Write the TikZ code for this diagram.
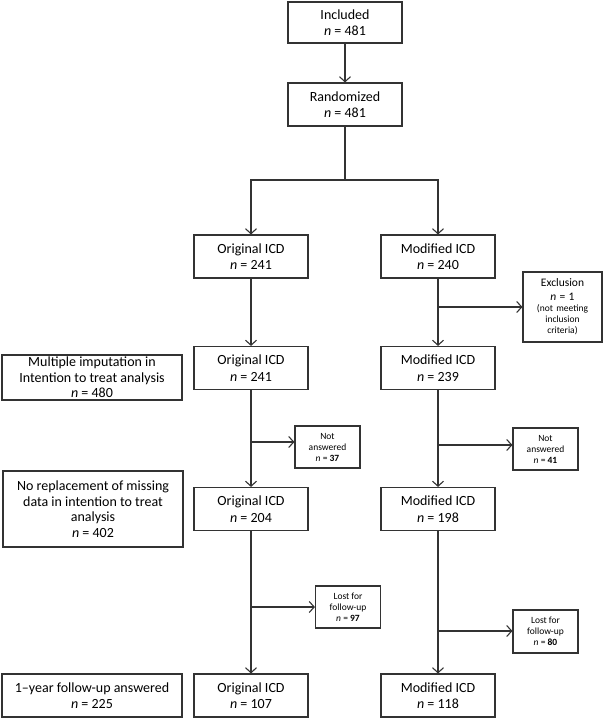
\documentclass[tikz,border=0pt]{standalone}
\usepackage{fontspec}
\setmainfont{Carlito}
\usetikzlibrary{arrows.meta}

\begin{document}
\begin{tikzpicture}[x=1pt, y=-1pt,
    flow/.style={draw=black!80, line width=1.1pt},
    arr/.style={flow, -{Straight Barb[length=5pt, width=11pt]}},
    mainbox/.style={flow, align=center, inner sep=0pt, minimum width=114pt, minimum height=43pt, font=\fontsize{14}{16.5}\selectfont},
    sidebox/.style={mainbox, minimum width=180pt, font=\fontsize{14}{15.5}\selectfont},
    smallbox/.style={flow, align=center, inner sep=0pt, minimum width=65pt, minimum height=42pt, font=\fontsize{9.5}{11}\selectfont}]
                \useasboundingbox (0, 0) rectangle (604, 719);
                % Enrolment
                \node [mainbox, minimum height=41pt] (incl) at (345, 22.5) {Included\\\textit{n} = 481};
                \node [mainbox] (rand) at (345, 104.5) {Randomized\\\textit{n} = 481};
                \draw [arr] (incl) -- (rand);
                % Allocation
                \node [mainbox] (orig1) at (251, 256.5) {Original ICD\\\textit{n} = 241};
                \node [mainbox] (mod1) at (438, 256.5) {Modified ICD\\\textit{n} = 240};
                \coordinate (split) at (345, 180);
                \draw [flow] (rand) -- (split);
                \draw [arr] (split) -| (orig1);
                \draw [arr] (split) -| (mod1);
                % Exclusion
                \node [flow, inner sep=0pt, text width=79pt, minimum height=70pt, align=center] (excl) at (562.5, 307)
                    {\fontsize{11.5}{14}\selectfont Exclusion\\\textit{n} = 1\par
                     {\fontsize{9.5}{11}\selectfont (not meeting\\inclusion\\criteria)\par}};
                % Second row
                \node [mainbox] (orig2) at (251, 368) {Original ICD\\\textit{n} = 241};
                \node [mainbox] (mod2) at (438, 368) {Modified ICD\\\textit{n} = 239};
                \node [sidebox, minimum height=45pt] (multi) at (92, 377.5) {Multiple imputation in\\Intention to treat analysis\\\textit{n} = 480};
                \draw [arr] (orig1) -- (orig2);
                \draw [arr] (mod1) -- (mod2);
                \coordinate (exsplit) at (438, 307);
                \draw [arr] (exsplit) -- (exsplit -| excl.west);
                % Not answered
                \node [smallbox] (nans1) at (327.5, 447) {Not\\answered\\\textit{n} = \textbf{37}};
                \node [smallbox] (nans2) at (545.5, 449) {Not\\answered\\\textit{n} = \textbf{41}};
                % Third row
                \node [mainbox] (orig3) at (251, 509) {Original ICD\\\textit{n} = 204};
                \node [mainbox] (mod3) at (438, 509) {Modified ICD\\\textit{n} = 198};
                \node [sidebox, minimum height=76pt] (norep) at (93, 509) {No replacement of missing\\data in intention to treat\\analysis\\\textit{n} = 402};
                \draw [arr] (orig2) -- (orig3);
                \draw [arr] (mod2) -- (mod3);
                \coordinate (nasplit1) at (251, 442);
                \draw [arr] (nasplit1) -- (nasplit1 -| nans1.west);
                \coordinate (nasplit2) at (438, 445);
                \draw [arr] (nasplit2) -- (nasplit2 -| nans2.west);
                % Lost for follow-up
                \node [smallbox] (lost1) at (348, 607) {Lost for\\follow-up\\\textit{n} = \textbf{97}};
                \node [smallbox, minimum height=43pt] (lost2) at (545.5, 631.5) {Lost for\\follow-up\\\textit{n} = \textbf{80}};
                % Follow-up row
                \node [mainbox] (orig4) at (251, 695.5) {Original ICD\\\textit{n} = 107};
                \node [mainbox] (mod4) at (438, 695.5) {Modified ICD\\\textit{n} = 118};
                \node [sidebox] (oneyr) at (92, 695.5) {1--year follow-up answered\\\textit{n} = 225};
                \draw [arr] (orig3) -- (orig4);
                \draw [arr] (mod3) -- (mod4);
                \coordinate (lsplit1) at (251, 607);
                \draw [arr] (lsplit1) -- (lsplit1 -| lost1.west);
                \coordinate (lsplit2) at (438, 631);
                \draw [arr] (lsplit2) -- (lsplit2 -| lost2.west);
            \end{tikzpicture}
\end{document}
